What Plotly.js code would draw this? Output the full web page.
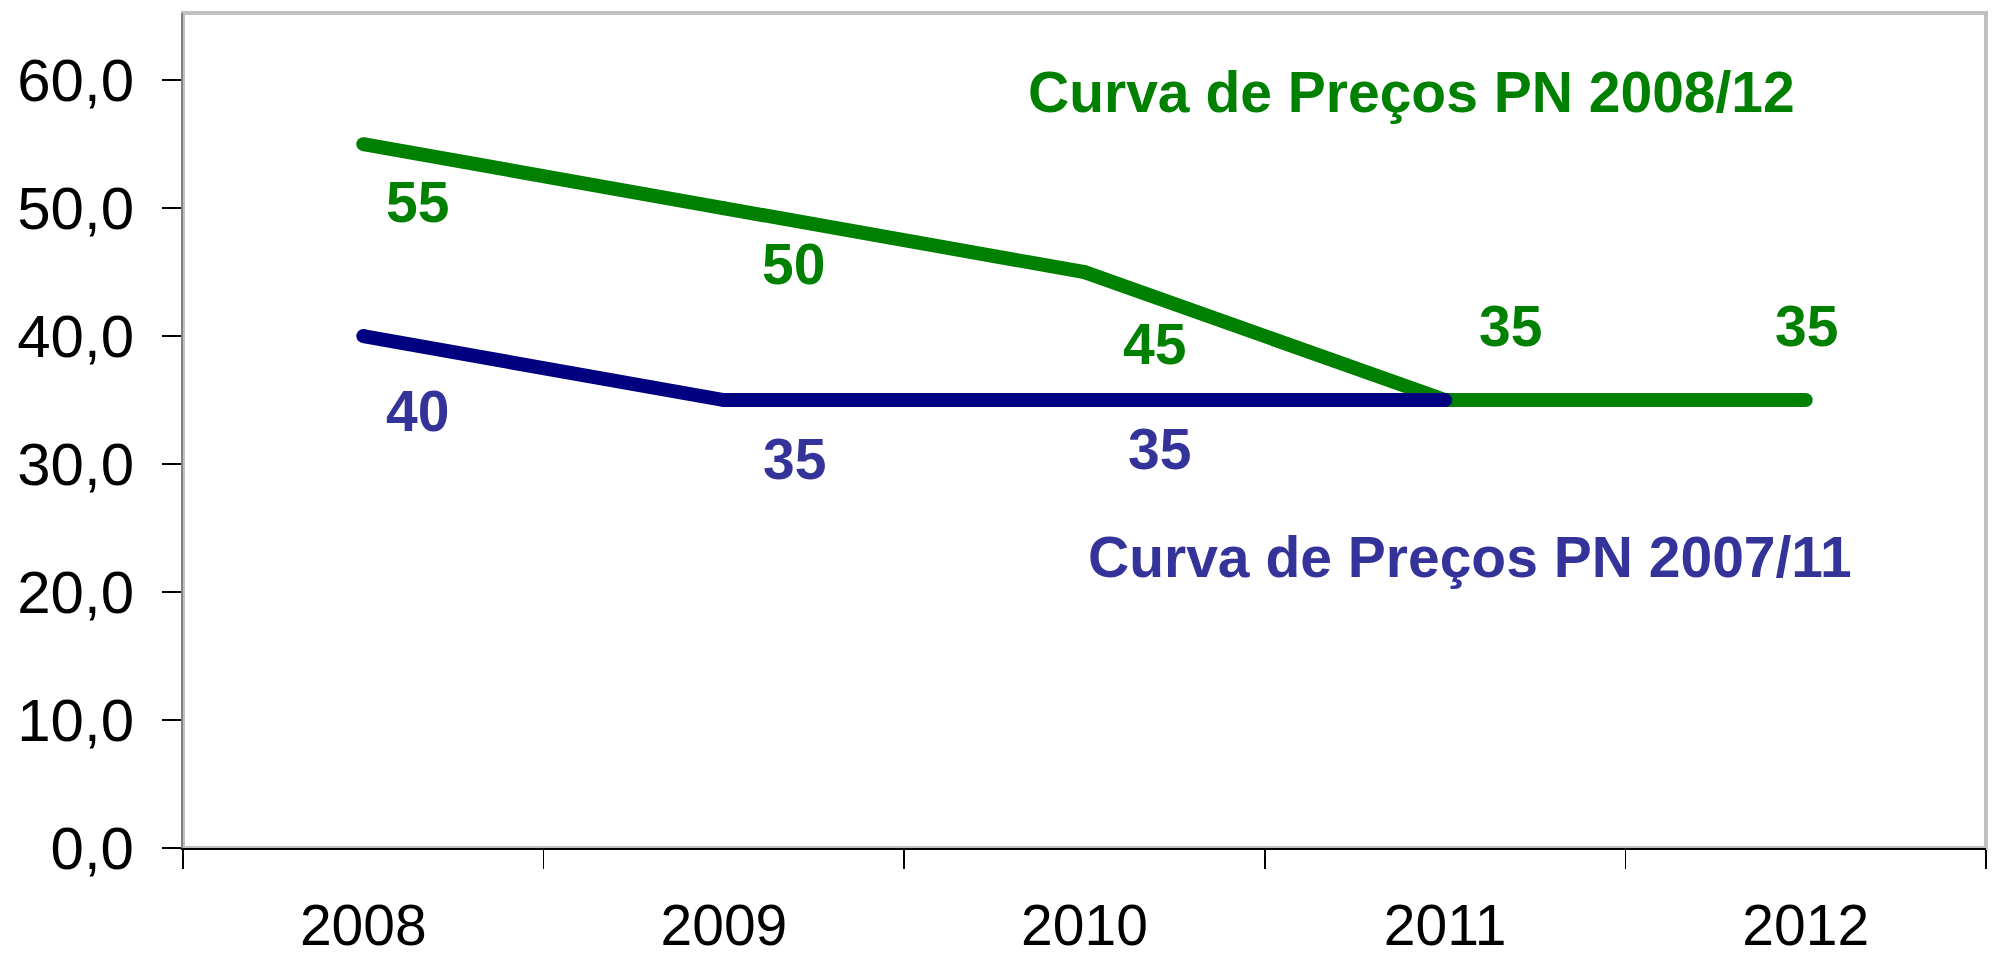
<!DOCTYPE html>
<html>
<head>
<meta charset="utf-8">
<script src="https://cdn.plot.ly/plotly-3.0.1.min.js"></script>
<style>html,body{margin:0;padding:0;background:#fff;}#chart{width:1994px;height:959px;}</style>
</head>
<body>
<div id="chart"></div>
<script>
// ---- data ----
const anos = ['2008', '2009', '2010', '2011', '2012'];
const precosPN2008_12 = [55, 50, 45, 35, 35];
const precosPN2007_11 = [40, 35, 35, 35];
const nomeSerie2008_12 = 'Curva de Preços PN 2008/12';
const nomeSerie2007_11 = 'Curva de Preços PN 2007/11';
const mostrarRotulo2007_11 = [true, true, true, false];

// ---- styling (label offsets in px, relative to each point) ----
const offVerde = [[54, -58], [70, -56], [70, -72], [65, 74], [1, 74]];
const offAzul = [[54, -75], [71, -59], [75, -49], [0, 0]];

const FONT = 'Liberation Sans, Arial, Helvetica, sans-serif';
const VERDE = '#008000';
const AZUL_LINHA = '#000080';
const AZUL_TEXTO = '#333399';
const LW = 14;

const traces = [
  {
    x: anos, y: precosPN2008_12, type: 'scatter', mode: 'lines+markers',
    name: nomeSerie2008_12,
    line: {color: VERDE, width: LW},
    marker: {color: VERDE, size: LW, line: {width: 0}},
    hoverinfo: 'skip'
  },
  {
    x: anos.slice(0, precosPN2007_11.length), y: precosPN2007_11, type: 'scatter', mode: 'lines+markers',
    name: nomeSerie2007_11,
    line: {color: AZUL_LINHA, width: LW},
    marker: {color: AZUL_LINHA, size: LW, line: {width: 0}},
    hoverinfo: 'skip'
  }
];

const annotations = [];
precosPN2008_12.forEach((v, i) => {
  annotations.push({
    x: i, y: v, xref: 'x', yref: 'y', text: String(v), showarrow: false,
    xshift: offVerde[i][0], yshift: offVerde[i][1],
    xanchor: 'center', yanchor: 'middle',
    font: {family: FONT, size: 57, color: VERDE, weight: 'bold'}
  });
});
precosPN2007_11.forEach((v, i) => {
  if (!mostrarRotulo2007_11[i]) return;
  annotations.push({
    x: i, y: v, xref: 'x', yref: 'y', text: String(v), showarrow: false,
    xshift: offAzul[i][0], yshift: offAzul[i][1],
    xanchor: 'center', yanchor: 'middle',
    font: {family: FONT, size: 57, color: AZUL_TEXTO, weight: 'bold'}
  });
});
annotations.push({
  x: 0.6815, y: 0.9054, xref: 'paper', yref: 'paper', text: nomeSerie2008_12, showarrow: false,
  xanchor: 'center', yanchor: 'middle',
  font: {family: FONT, size: 57, color: VERDE, weight: 'bold'}
});
annotations.push({
  x: 0.714, y: 0.3485, xref: 'paper', yref: 'paper', text: nomeSerie2007_11, showarrow: false,
  xanchor: 'center', yanchor: 'middle',
  font: {family: FONT, size: 57, color: AZUL_TEXTO, weight: 'bold'}
});

const layout = {
  width: 1994, height: 959,
  margin: {l: 183, r: 8, t: 13, b: 111, pad: 0},
  paper_bgcolor: '#ffffff', plot_bgcolor: '#ffffff',
  showlegend: false,
  separators: ',.',
  font: {family: FONT, color: '#000'},
  xaxis: {
    type: 'category', range: [-0.5, 4.5], tickson: 'boundaries',
    ticks: 'outside', ticklen: 19, tickwidth: 1.5, tickcolor: '#000',
    ticklabelstandoff: 27,
    showline: true, linecolor: '#000', linewidth: 2,
    showgrid: false, zeroline: false, fixedrange: true,
    tickfont: {family: FONT, size: 57, color: '#000'}
  },
  yaxis: {
    range: [0, 65.25], tick0: 0, dtick: 10, tickformat: '.1f',
    ticks: 'outside', ticklen: 19, tickwidth: 1.5, tickcolor: '#000',
    ticklabelstandoff: 16,
    showline: true, linecolor: '#808080', linewidth: 2,
    showgrid: false, zeroline: false, fixedrange: true,
    tickfont: {family: FONT, size: 60, color: '#000'}
  },
  shapes: [{
    type: 'rect', xref: 'paper', yref: 'paper', x0: 0, x1: 1, y0: 0, y1: 1,
    line: {color: '#c0c0c0', width: 4}, layer: 'below'
  }],
  annotations: annotations
};

Plotly.newPlot('chart', traces, layout, {displayModeBar: false, staticPlot: true});
</script>
</body>
</html>
